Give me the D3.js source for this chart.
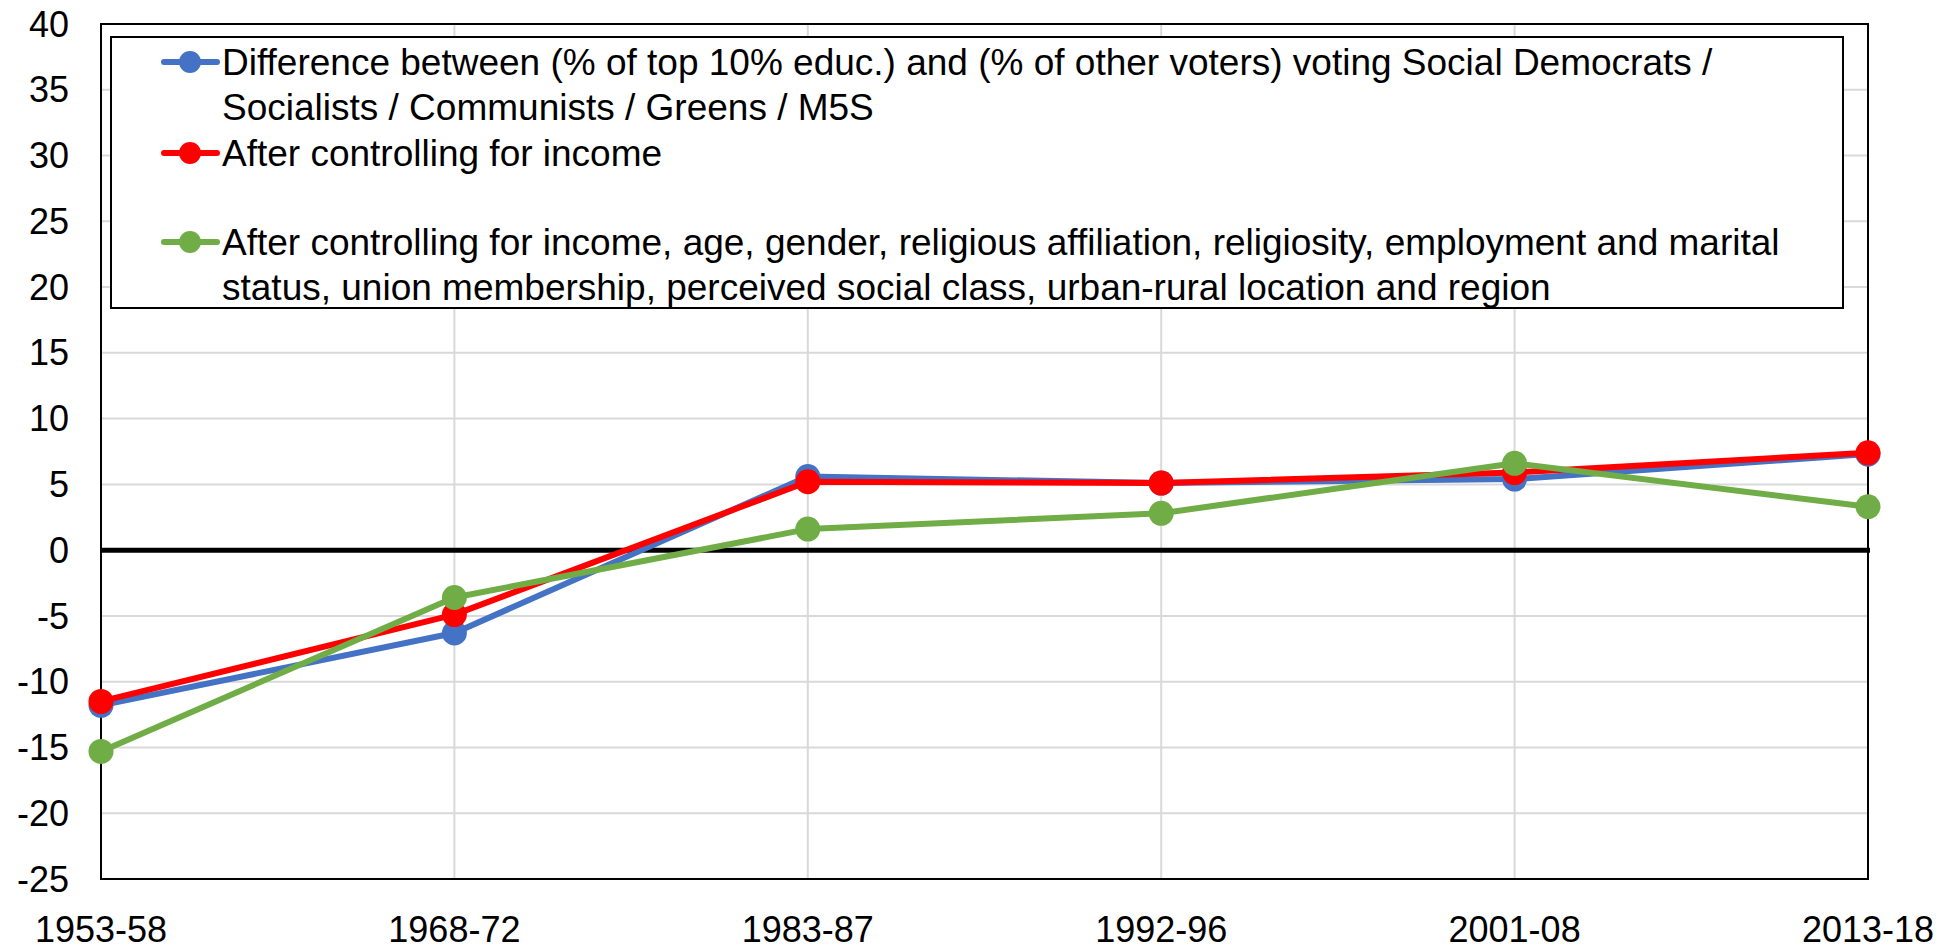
<!DOCTYPE html>
<html lang="en">
<head>
<meta charset="utf-8">
<title>Education cleavage</title>
<script src="https://cdn.jsdelivr.net/npm/d3@7"></script>
<style>
  body { margin: 0; background: #fff; }
  text { font-family: "Liberation Sans", Arial, sans-serif; fill: #000; }
</style>
</head>
<body>
<script>
// data
var periods = ["1953-58", "1968-72", "1983-87", "1992-96", "2001-08", "2013-18"];
var blueVals = [-11.8, -6.3, 5.6, 5.1, 5.4, 7.3];
var redVals = [-11.5, -4.9, 5.2, 5.1, 5.9, 7.4];
var greenVals = [-15.3, -3.6, 1.6, 2.8, 6.6, 3.3];
var yTicks = [40, 35, 30, 25, 20, 15, 10, 5, 0, -5, -10, -15, -20, -25];
var legendLines = [
  ["Difference between (% of top 10% educ.) and (% of other voters) voting Social Democrats /",
   "Socialists / Communists / Greens / M5S"],
  ["After controlling for income", ""],
  ["After controlling for income, age, gender, religious affiliation, religiosity, employment and marital",
   "status, union membership, perceived social class, urban-rural location and region"]
];

var w = 1957, h = 951;
var mLeft = 101, mRight = 1868, mTop = 24, mBottom = 879;

var svg = d3.select("body").append("svg")
  .attr("width", w).attr("height", h);

var x = d3.scalePoint().domain(periods).range([mLeft, mRight]);
var y = d3.scaleLinear().domain([-25, 40]).range([mBottom, mTop]);

// gridlines
svg.append("g").selectAll("line")
  .data(yTicks)
  .enter().append("line")
  .attr("x1", mLeft).attr("x2", mRight)
  .attr("y1", function(d) { return y(d); })
  .attr("y2", function(d) { return y(d); })
  .attr("stroke", "#d9d9d9").attr("stroke-width", 2);

svg.append("g").selectAll("line")
  .data(periods)
  .enter().append("line")
  .attr("x1", function(d) { return x(d); })
  .attr("x2", function(d) { return x(d); })
  .attr("y1", mTop).attr("y2", mBottom)
  .attr("stroke", "#d9d9d9").attr("stroke-width", 2);

// plot border
svg.append("rect")
  .attr("x", mLeft).attr("y", mTop)
  .attr("width", mRight - mLeft).attr("height", mBottom - mTop)
  .attr("fill", "none").attr("stroke", "#000").attr("stroke-width", 2);

// zero line
svg.append("line")
  .attr("x1", mLeft).attr("x2", mRight + 2)
  .attr("y1", y(0)).attr("y2", y(0))
  .attr("stroke", "#000").attr("stroke-width", 5);

// y labels
svg.append("g").selectAll("text")
  .data(yTicks)
  .enter().append("text")
  .attr("x", 69)
  .attr("y", function(d) { return y(d); })
  .attr("dy", "0.35em")
  .attr("text-anchor", "end")
  .attr("font-size", "36px")
  .text(function(d) { return d; });

// x labels
svg.append("g").selectAll("text")
  .data(periods)
  .enter().append("text")
  .attr("x", function(d) { return x(d); })
  .attr("y", 942)
  .attr("text-anchor", "middle")
  .attr("font-size", "36px")
  .text(function(d) { return d; });

var series = [
  { vals: blueVals, color: "#4472c4" },
  { vals: redVals, color: "#ff0000" },
  { vals: greenVals, color: "#70ad47" }
];

var line = d3.line()
  .x(function(d, i) { return x(periods[i]); })
  .y(function(d) { return y(d); });

series.forEach(function(s) {
  svg.append("path")
    .datum(s.vals)
    .attr("d", line)
    .attr("fill", "none")
    .attr("stroke", s.color)
    .attr("stroke-width", 6)
    .attr("stroke-linejoin", "round");
  svg.append("g").selectAll("circle")
    .data(s.vals)
    .enter().append("circle")
    .attr("cx", function(d, i) { return x(periods[i]); })
    .attr("cy", function(d) { return y(d); })
    .attr("r", 12.5)
    .attr("fill", s.color);
});

// legend
var lg = svg.append("g");
lg.append("rect")
  .attr("x", 111).attr("y", 37)
  .attr("width", 1732).attr("height", 271)
  .attr("fill", "#fff").attr("stroke", "#000").attr("stroke-width", 2);

var rowY = [62, 153, 242];
series.forEach(function(s, i) {
  var cy = rowY[i];
  lg.append("line")
    .attr("x1", 164).attr("x2", 217)
    .attr("y1", cy).attr("y2", cy)
    .attr("stroke", s.color).attr("stroke-width", 6)
    .attr("stroke-linecap", "round");
  lg.append("circle")
    .attr("cx", 190).attr("cy", cy).attr("r", 11)
    .attr("fill", s.color);
  legendLines[i].forEach(function(t, j) {
    if (!t) return;
    lg.append("text")
      .attr("x", 222)
      .attr("y", cy + j * 45)
      .attr("dy", "0.35em")
      .attr("font-size", "37px")
      .text(t);
  });
});
</script>
</body>
</html>
